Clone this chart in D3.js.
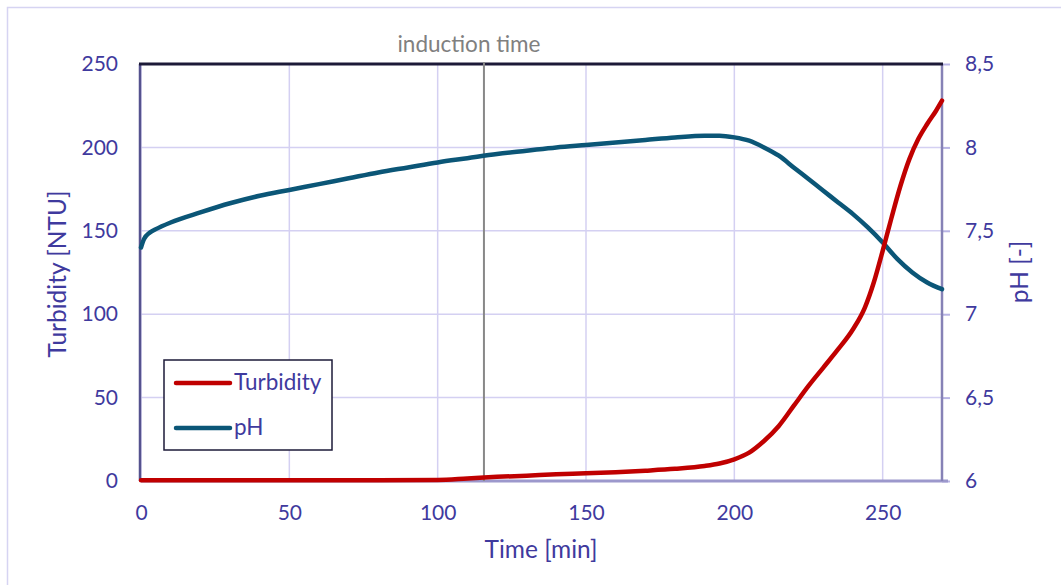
<!DOCTYPE html>
<html>
<head>
<meta charset="utf-8">
<script src="https://cdn.jsdelivr.net/npm/d3@7"></script>
<style>
  body { margin: 0; background: #fff; }
  text { font-family: Lato, "Open Sans", sans-serif; }
</style>
</head>
<body>
<div id="chart"></div>
<script>
// time axis [min]
var turbTime = [0, 20, 40, 60, 80, 100, 110, 120, 130, 140, 150, 160, 170, 180, 190, 195, 200, 205, 210, 215, 220, 225, 230, 235, 240, 244, 247, 250, 253, 256, 259, 262, 265, 268, 270];
var turbValues = [0.5, 0.5, 0.5, 0.5, 0.5, 0.6, 1.5, 2.5, 3.2, 4, 4.6, 5.3, 6.2, 7.3, 9, 10.5, 13, 17, 24, 33, 45, 57, 68, 79, 91, 104, 119, 138, 158, 177, 193, 205, 214, 222, 228];

var phTime = [0, 1, 3, 5, 10, 20, 30, 40, 50, 60, 70, 80, 90, 100, 110, 120, 130, 140, 150, 160, 170, 180, 190, 195, 200, 205, 210, 215, 220, 225, 230, 235, 240, 245, 250, 255, 260, 265, 270];
var phValues = [7.40, 7.45, 7.49, 7.51, 7.55, 7.61, 7.665, 7.71, 7.745, 7.78, 7.815, 7.85, 7.88, 7.91, 7.935, 7.96, 7.98, 8.0, 8.015, 8.03, 8.045, 8.06, 8.07, 8.07, 8.06, 8.04, 8.0, 7.95, 7.88, 7.81, 7.74, 7.67, 7.6, 7.52, 7.43, 7.33, 7.25, 7.19, 7.15];

var xTicks = [0, 50, 100, 150, 200, 250];
var yLeftTicks = [0, 50, 100, 150, 200, 250];
var yRightTicks = [6, 6.5, 7, 7.5, 8, 8.5];
var inductionTime = 115.6;

var W = 1061, H = 585;
var margin = {top: 64, right: 119, bottom: 104, left: 141};
var width = W - margin.left - margin.right,
    height = H - margin.top - margin.bottom;

var textColor = '#3f3a9e';
var gridColor = '#d4d0f2';

var svg = d3.select('#chart').append('svg')
  .attr('width', W)
  .attr('height', H);

// outer frame (runs off the right and bottom edge)
svg.append('rect')
  .attr('x', 7.5).attr('y', 7.5)
  .attr('width', W + 20).attr('height', H + 20)
  .attr('fill', 'none')
  .attr('stroke', '#d6d4f2')
  .attr('stroke-width', 1.5);

var g = svg.append('g').attr('transform', 'translate(' + margin.left + ',' + margin.top + ')');

var x = d3.scaleLinear().domain([0, 270]).range([0, width]);
var yL = d3.scaleLinear().domain([0, 250]).range([height, 0]);
var yR = d3.scaleLinear().domain([6, 8.5]).range([height, 0]);

// grid
g.selectAll('.vgrid').data(xTicks)
  .enter().append('line')
  .attr('x1', function(d){ return x(d); }).attr('x2', function(d){ return x(d); })
  .attr('y1', 0).attr('y2', height)
  .attr('stroke', gridColor).attr('stroke-width', 1.5);

g.selectAll('.hgrid').data(yLeftTicks)
  .enter().append('line')
  .attr('x1', 0).attr('x2', width)
  .attr('y1', function(d){ return yL(d); }).attr('y2', function(d){ return yL(d); })
  .attr('stroke', gridColor).attr('stroke-width', 1.5);

// axes
var xAxis = g.append('g')
  .attr('transform', 'translate(0,' + height + ')')
  .call(d3.axisBottom(x).tickValues(xTicks).tickSize(0).tickPadding(24));
xAxis.select('.domain').remove();

var yAxisL = g.append('g')
  .call(d3.axisLeft(yL).tickValues(yLeftTicks).tickSize(0).tickPadding(23));
yAxisL.select('.domain').remove();

var yAxisR = g.append('g')
  .attr('transform', 'translate(' + width + ',0)')
  .call(d3.axisRight(yR).tickValues(yRightTicks).tickSize(8).tickPadding(15)
    .tickFormat(function(d){ return String(d).replace('.', ','); }));
yAxisR.select('.domain').remove();
yAxisR.selectAll('line').attr('stroke', '#b8b4e4').attr('stroke-width', 2);

svg.selectAll('.tick text')
  .attr('fill', textColor)
  .style('font-size', '21px');

// frame lines
g.append('line').attr('x1', 0).attr('x2', width + 6).attr('y1', height).attr('y2', height)
  .attr('stroke', '#9c98cc').attr('stroke-width', 3);
g.append('line').attr('x1', width).attr('x2', width).attr('y1', 0).attr('y2', height)
  .attr('stroke', '#8682b6').attr('stroke-width', 2.5);
g.append('line').attr('x1', -1).attr('x2', -1).attr('y1', 0).attr('y2', height)
  .attr('stroke', '#55528e').attr('stroke-width', 2.5);
g.append('line').attr('x1', -2).attr('x2', width + 1).attr('y1', 0).attr('y2', 0)
  .attr('stroke', '#1c1a38').attr('stroke-width', 3);

// induction time
g.append('line')
  .attr('x1', x(inductionTime)).attr('x2', x(inductionTime))
  .attr('y1', -2).attr('y2', height)
  .attr('stroke', '#888').attr('stroke-width', 2);
g.append('text')
  .attr('x', x(inductionTime) - 15).attr('y', -12)
  .attr('text-anchor', 'middle')
  .attr('fill', '#808080')
  .style('font-size', '22.5px')
  .text('induction time');

// lines
var turbData = turbTime.map(function(t, i){ return {t: t, v: turbValues[i]}; });
var phData = phTime.map(function(t, i){ return {t: t, v: phValues[i]}; });

var turbLine = d3.line().curve(d3.curveMonotoneX)
  .x(function(d){ return x(d.t); })
  .y(function(d){ return yL(d.v); });
var phLine = d3.line().curve(d3.curveMonotoneX)
  .x(function(d){ return x(d.t); })
  .y(function(d){ return yR(d.v); });

g.append('path').datum(phData)
  .attr('d', phLine)
  .attr('fill', 'none')
  .attr('stroke', '#0b5677')
  .attr('stroke-width', 4.5)
  .attr('stroke-linecap', 'round');

g.append('path').datum(turbData)
  .attr('d', turbLine)
  .attr('fill', 'none')
  .attr('stroke', '#c00000')
  .attr('stroke-width', 4.5)
  .attr('stroke-linecap', 'round');

// axis titles
svg.append('text')
  .attr('x', 541).attr('y', 558)
  .attr('text-anchor', 'middle')
  .attr('fill', textColor)
  .style('font-size', '24.5px')
  .text('Time [min]');

svg.append('text')
  .attr('transform', 'translate(66,274) rotate(-90)')
  .attr('text-anchor', 'middle')
  .attr('fill', textColor)
  .style('font-size', '24.5px')
  .text('Turbidity [NTU]');

svg.append('text')
  .attr('transform', 'translate(1028,272) rotate(-90)')
  .attr('text-anchor', 'middle')
  .attr('fill', textColor)
  .style('font-size', '24.5px')
  .text('pH [-]');

// legend
var legend = svg.append('g').attr('transform', 'translate(164,360)');
legend.append('rect')
  .attr('width', 168).attr('height', 90)
  .attr('fill', '#fff')
  .attr('stroke', '#1c1a38').attr('stroke-width', 1.5);

var legendItems = [
  {name: 'Turbidity', color: '#c00000', y: 23},
  {name: 'pH', color: '#0b5677', y: 68}
];
legendItems.forEach(function(item){
  legend.append('line')
    .attr('x1', 12).attr('x2', 66)
    .attr('y1', item.y).attr('y2', item.y)
    .attr('stroke', item.color).attr('stroke-width', 4.5)
    .attr('stroke-linecap', 'round');
  legend.append('text')
    .attr('x', 70).attr('y', item.y + 7)
    .attr('fill', textColor)
    .style('font-size', '22.5px')
    .text(item.name);
});
</script>
</body>
</html>
